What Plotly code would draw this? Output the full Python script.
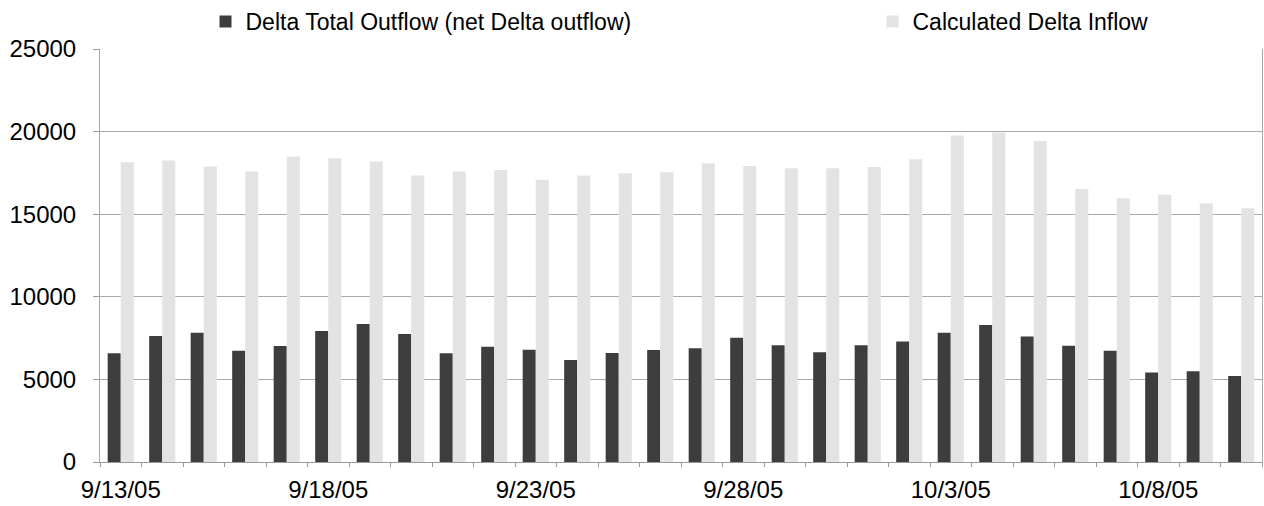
import plotly.graph_objects as go

# Daily categories (one bar pair per day)
dates = [
    "9/13/05", "9/14/05", "9/15/05", "9/16/05", "9/17/05", "9/18/05", "9/19/05",
    "9/20/05", "9/21/05", "9/22/05", "9/23/05", "9/24/05", "9/25/05", "9/26/05",
    "9/27/05", "9/28/05", "9/29/05", "9/30/05", "10/1/05", "10/2/05", "10/3/05",
    "10/4/05", "10/5/05", "10/6/05", "10/7/05", "10/8/05", "10/9/05", "10/10/05",
]

# Delta Total Outflow (net Delta outflow), cfs
outflow = [
    6580, 7630, 7830, 6740, 7020, 7930, 8350, 7750, 6580, 6980,
    6800, 6170, 6600, 6780, 6880, 7520, 7060, 6640, 7060, 7300,
    7830, 8300, 7600, 7040, 6740, 5420, 5500, 5200,
]

# Calculated Delta Inflow, cfs
inflow = [
    18140, 18250, 17880, 17580, 18490, 18390, 18190, 17340, 17580, 17680,
    17080, 17340, 17480, 17540, 18080, 17920, 17780, 17780, 17860, 18330,
    19760, 19950, 19430, 16530, 15970, 16170, 15660, 15360,
]

# Dates that carry a visible label on the category axis
labelled_dates = ["9/13/05", "9/18/05", "9/23/05", "9/28/05", "10/3/05", "10/8/05"]
y_ticks = [0, 5000, 10000, 15000, 20000, 25000]
y_tick_text = ["0", "5000", "10000", "15000", "20000", "25000"]

FONT = "Liberation Sans, Arial, sans-serif"

fig = go.Figure()
fig.add_trace(go.Bar(
    x=dates, y=outflow,
    name="Delta Total Outflow (net Delta outflow)",
    marker=dict(color="#3d3d3d", line=dict(width=0)),
    legend="legend",
))
fig.add_trace(go.Bar(
    x=dates, y=inflow,
    name="Calculated Delta Inflow",
    marker=dict(color="#e3e3e3", line=dict(width=0)),
    legend="legend2",
))

legend_common = dict(
    orientation="h",
    xanchor="left",
    yref="container", y=1.0, yanchor="top",
    font=dict(family=FONT, size=23, color="black"),
    itemwidth=30,
    bgcolor="rgba(0,0,0,0)",
)

fig.update_layout(
    width=1264, height=506,
    margin=dict(l=100, r=2, t=49, b=44, autoexpand=False),
    paper_bgcolor="white", plot_bgcolor="white",
    barmode="group", bargap=0.37, bargroupgap=0,
    font=dict(family=FONT, size=24, color="black"),
    showlegend=True,
    legend=dict(x=0.0908, **legend_common),
    legend2=dict(x=0.6648, **legend_common),
    xaxis=dict(
        type="category",
        categoryorder="array", categoryarray=dates,
        tickmode="array",
        tickvals=dates,
        ticktext=[d if d in labelled_dates else "" for d in dates],
        tickangle=0,
        tickson="boundaries",
        ticks="outside", ticklen=4, tickcolor="#9a9a9a",
        showline=True, linecolor="#9a9a9a", linewidth=1,
        showgrid=False,
        ticklabelstandoff=6,
        tickfont=dict(family=FONT, size=24, color="black"),
    ),
    yaxis=dict(
        range=[0, 25000],
        tickmode="array", tickvals=y_ticks, ticktext=y_tick_text,
        ticks="outside", ticklen=6, tickcolor="#9a9a9a",
        showline=True, mirror=True, linecolor="#a8a8a8", linewidth=1,
        showgrid=True, gridcolor="#a9a9a9", gridwidth=1,
        zeroline=False,
        ticklabelstandoff=12,
        tickfont=dict(family=FONT, size=24, color="black"),
    ),
)

fig.write_html("out.html")
